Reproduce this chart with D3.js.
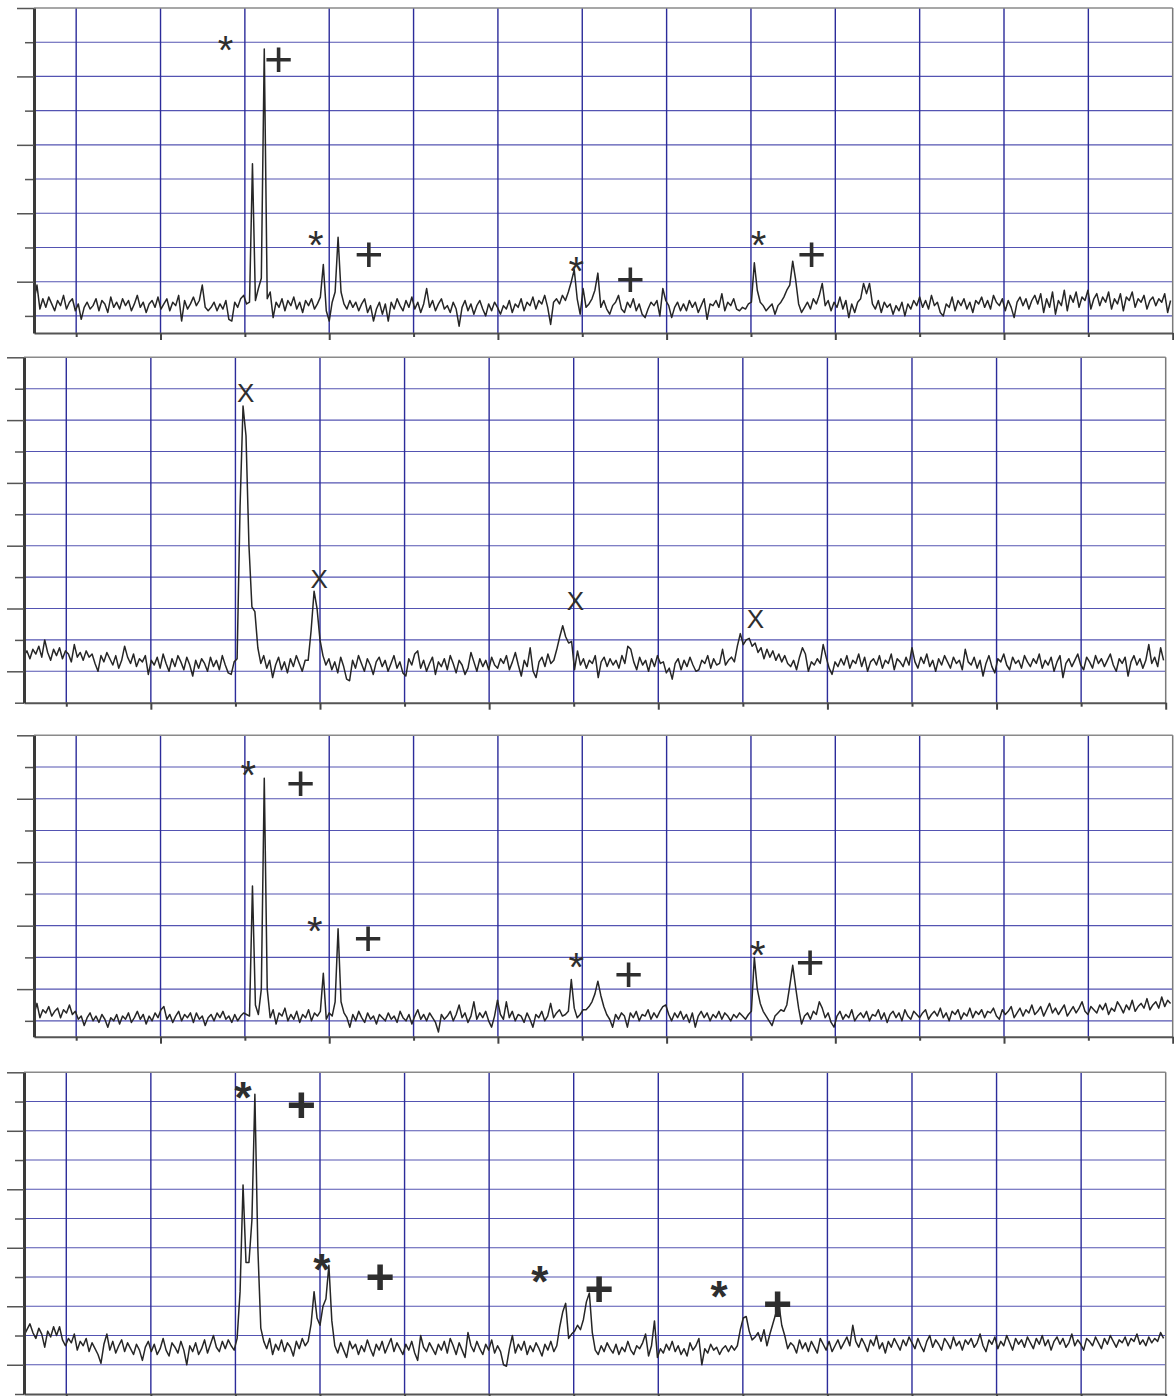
<!DOCTYPE html>
<html>
<head>
<meta charset="utf-8">
<script src="https://cdn.jsdelivr.net/npm/d3@7"></script>
<style>
  html, body { margin: 0; padding: 0; background: #fff; }
  svg { display: block; }
</style>
</head>
<body>
<div id="chart"></div>
<script>
// sampling of every spectrum (same x axis in all four panels)
const xStart = 5;
const xStep = 0.35;

// axis ticks and grid
const xGridLines = [10, 20, 30, 40, 50, 60, 70, 80, 90, 100, 110, 120, 130];
const xMajorTicks = [20, 40, 60, 80, 100, 120, 140];
const xMinorTicks = [10, 30, 50, 70, 90, 110, 130];
const yMajorA = [30, 70, 110, 150, 190];
const yMinorA = [10, 50, 90, 130, 170];
const yGridA = [10, 30, 50, 70, 90, 110, 130, 150, 170];
const yMajorB = [20, 60, 100, 140, 180, 220];
const yMinorB = [0, 40, 80, 120, 160, 200];
const yGridB = [20, 40, 60, 80, 100, 120, 140, 160, 180, 200];

// spectrum 1 (top)
const spectrum1 = [
  19,28,14,20,15,21,17,13,19,16,22,14,18,20,13,17,8,15,18,14,
  16,20,13,19,17,12,21,15,18,14,20,16,19,13,17,22,15,18,12,17,
  19,15,21,14,17,20,13,18,16,22,7,19,14,17,21,16,19,28,15,13,
  15,18,13,17,14,19,8,7,18,15,20,22,17,18,99,19,26,32,166,20,
  24,9,18,15,20,13,19,16,21,14,18,12,19,16,20,14,17,21,40,13,
  7,18,24,56,24,17,14,19,15,18,13,17,20,12,16,7,14,18,11,17,
  7,18,14,20,16,13,19,15,21,14,18,12,17,26,15,19,13,17,20,14,
  16,12,18,14,4,15,19,13,17,11,16,19,14,10,17,13,18,15,11,16,
  14,19,12,17,15,20,13,18,16,21,14,19,17,22,15,5,18,20,17,22,
  19,24,30,37,20,11,26,15,17,20,25,35,15,19,14,11,16,18,22,14,
  12,18,15,20,13,17,11,9,14,18,16,19,10,26,19,16,9,15,18,13,
  17,13,19,15,18,12,16,20,8,17,16,19,15,23,13,18,16,20,14,13,
  15,14,17,18,41,25,18,16,13,15,17,11,16,18,21,25,28,42,31,17,
  12,15,18,14,20,17,22,29,16,19,13,18,15,21,14,19,9,17,12,18,
  20,29,23,29,17,14,19,12,18,15,17,11,16,13,18,10,17,14,19,16,
  21,15,19,14,22,16,18,12,10,17,15,21,13,19,16,20,14,18,12,19,
  17,21,15,19,14,22,18,16,20,13,19,15,9,18,21,16,20,14,19,22,
  17,23,12,20,15,24,11,19,16,25,13,22,18,24,15,21,19,25,14,20,
  23,16,21,18,24,14,20,17,23,13,21,19,24,15,20,18,22,14,19,21,16,20,18,23,12,19
];

// spectrum 2
const spectrum2 = [
  30,33,28,34,31,36,29,40,32,27,34,30,35,28,33,31,26,37,29,32,
  27,33,29,31,25,20,30,26,32,28,24,30,22,27,36,29,25,31,23,28,
  26,30,18,27,24,29,22,31,25,20,28,23,30,26,21,29,24,17,27,22,
  28,25,20,29,23,27,21,30,24,19,18,26,28,125,189,170,100,61,58,35,
  25,30,22,27,16,24,29,21,26,19,28,23,30,25,20,27,27,46,71,60,
  40,30,24,28,21,26,19,29,23,15,14,27,22,30,25,20,28,24,18,26,
  29,23,27,20,25,30,22,26,19,17,28,24,31,33,22,27,20,25,29,18,
  26,23,28,21,30,25,19,27,24,18,22,32,26,20,28,23,27,21,29,24,
  22,28,25,30,21,26,32,24,17,27,23,35,20,16,26,29,23,31,25,27,
  34,42,49,42,38,39,21,33,24,28,22,27,25,30,16,26,29,23,28,24,
  27,22,30,25,36,34,26,21,29,24,27,20,28,23,30,25,26,19,22,15,
  25,28,21,27,23,29,24,20,21,27,25,30,22,28,24,25,34,24,27,29,
  26,36,44,37,40,41,36,38,32,35,28,34,29,33,27,31,26,30,25,23,
  27,21,29,35,31,20,26,24,28,25,37,29,22,18,26,23,28,24,30,22,
  27,25,31,23,29,20,26,28,24,30,22,27,25,31,21,28,26,23,29,24,
  35,26,22,29,25,31,23,27,20,28,24,30,26,22,29,25,27,21,34,26,
  24,29,22,27,17,25,30,23,19,28,26,31,24,21,29,25,27,22,30,26,
  23,28,25,31,22,27,24,29,20,26,30,16,25,28,23,27,31,24,21,29,
  26,22,30,25,28,23,27,31,24,20,28,25,29,17,26,30,24,28,22,27,37,25,29,23,35,27
];

// spectrum 3
const spectrum3 = [
  14,21,12,17,15,19,13,16,18,12,17,15,20,14,16,11,13,7,12,15,
  10,13,9,14,11,6,12,10,14,8,13,11,15,9,12,16,11,14,8,13,
  10,15,12,17,19,11,14,9,13,16,10,14,12,15,9,15,11,13,7,12,
  14,10,15,12,16,11,13,9,14,10,13,15,14,13,95,20,14,30,163,30,
  12,17,8,15,13,18,10,14,11,16,9,14,12,17,10,15,13,16,40,11,
  15,13,22,68,22,15,12,6,14,10,16,12,9,15,11,13,8,14,12,10,
  15,11,13,9,16,12,10,14,8,13,17,11,14,10,15,12,9,3,14,11,
  13,16,10,14,20,12,15,9,13,22,11,15,12,16,10,6,13,23,14,11,
  22,12,16,10,14,13,9,15,11,6,14,12,16,10,13,21,12,15,17,13,
  14,16,36,18,12,14,17,17,19,22,27,35,26,19,14,11,6,14,11,15,
  13,6,15,12,16,10,14,13,17,11,15,12,16,19,20,14,10,15,12,16,
  11,14,9,15,6,13,16,12,15,10,14,12,16,11,15,13,10,14,12,15,
  13,11,14,16,50,30,21,16,13,10,7,13,15,17,16,20,32,45,31,18,
  8,13,15,11,16,14,22,18,12,15,9,6,13,16,11,14,12,17,10,13,
  15,12,16,10,14,13,17,11,15,9,14,16,12,15,10,17,13,11,16,14,
  12,15,17,11,14,16,13,18,12,15,10,16,14,17,11,15,13,18,12,16,
  14,17,12,16,15,18,13,11,17,14,16,19,12,15,18,13,17,15,20,14,
  16,19,13,17,21,15,18,14,17,20,13,16,19,15,18,22,16,14,19,17,
  15,20,17,21,14,18,16,22,19,15,20,17,23,16,19,21,18,24,17,20,22,18,25,19,23,21
];

// spectrum 4 (bottom)
const spectrum4 = [
  40,44,48,42,38,45,41,32,43,39,46,40,46,37,33,38,35,41,30,36,
  33,38,29,35,31,27,21,34,41,30,36,28,33,37,29,35,31,27,34,30,
  23,32,36,29,34,27,31,38,30,26,35,32,28,36,30,20,33,29,35,27,
  31,37,28,34,40,32,29,36,31,37,33,30,38,70,143,90,90,119,205,100,
  45,36,31,38,27,34,30,37,29,35,32,26,36,31,38,33,36,48,70,52,
  47,60,65,88,50,33,28,35,30,25,36,31,34,27,33,29,37,31,26,34,
  30,36,28,33,38,29,35,31,27,34,30,36,28,23,40,32,29,35,31,27,
  34,30,36,28,38,33,27,35,30,25,42,33,29,36,31,27,34,30,37,28,
  33,29,20,19,31,40,28,34,30,36,27,33,29,35,31,26,34,30,36,29,
  33,46,56,62,38,41,43,47,44,51,63,69,42,30,27,33,29,35,31,28,
  34,27,32,29,36,30,27,33,31,35,41,26,33,50,25,31,28,34,30,36,
  29,33,27,31,26,35,30,33,38,20,31,28,34,30,32,27,31,33,29,33,
  30,33,44,52,53,43,37,39,42,36,44,33,41,48,55,62,47,40,31,35,
  33,28,37,31,35,29,36,32,28,38,34,30,36,29,33,37,31,35,39,33,
  47,36,32,38,34,29,37,33,40,31,35,28,36,32,38,34,30,37,33,39,
  35,31,38,33,29,36,40,32,37,34,30,38,35,31,39,33,36,30,37,34,
  38,32,35,41,33,29,37,34,39,31,36,33,40,35,30,38,34,37,32,39,
  35,31,38,34,40,33,37,30,36,39,34,38,32,35,41,33,37,34,30,38,
  36,33,39,35,31,38,34,40,36,32,37,35,39,33,38,36,41,34,37,33,39,35,38,36,42,38
];

// peak labels
const labels1 = [
  { x: 27.7, y: 170.4, s: "*" }, { x: 34.0, y: 160.5, s: "+" },
  { x: 38.4, y: 56.3, s: "*" },  { x: 44.7, y: 46.7, s: "+" },
  { x: 69.3, y: 41.1, s: "*" },  { x: 75.7, y: 31.8, s: "+" },
  { x: 90.9, y: 56.3, s: "*" },  { x: 97.2, y: 46.4, s: "+" }
];
const labels2 = [
  { x: 31.2, y: 197.3, s: "X" }, { x: 39.9, y: 79.2, s: "X" },
  { x: 70.2, y: 64.7, s: "X" },  { x: 91.5, y: 53.4, s: "X" }
];
const labels3 = [
  { x: 30.4, y: 170.5, s: "*" }, { x: 36.6, y: 160.2, s: "+" },
  { x: 38.3, y: 72.0, s: "*" },  { x: 44.6, y: 62.3, s: "+" },
  { x: 69.3, y: 49.5, s: "*" },  { x: 75.5, y: 39.7, s: "+" },
  { x: 90.8, y: 57.3, s: "*" },  { x: 97.0, y: 47.2, s: "+" }
];
const labels4 = [
  { x: 30.9, y: 209.5, s: "*" }, { x: 37.8, y: 198.0, s: "+" },
  { x: 40.2, y: 91.7, s: "*" },  { x: 47.1, y: 80.5, s: "+" },
  { x: 66.0, y: 83.2, s: "*" },  { x: 73.0, y: 72.0, s: "+" },
  { x: 87.2, y: 73.4, s: "*" },  { x: 94.1, y: 62.2, s: "+" }
];

const width = 1174, height = 1396;

const panels = [
  { left: 34, right: 1172.7, top: 8,      bottom: 333,    yMax: 190, major: yMajorA, minor: yMinorA, grid: yGridA, data: spectrum1, labels: labels1, bold: false },
  { left: 24, right: 1165.7, top: 357.3,  bottom: 702.7,  yMax: 220, major: yMajorB, minor: yMinorB, grid: yGridB, data: spectrum2, labels: labels2, bold: false },
  { left: 34, right: 1172.7, top: 735.3,  bottom: 1036.7, yMax: 190, major: yMajorA, minor: yMinorA, grid: yGridA, data: spectrum3, labels: labels3, bold: false },
  { left: 24, right: 1165.7, top: 1072.3, bottom: 1394,   yMax: 220, major: yMajorB, minor: yMinorB, grid: yGridB, data: spectrum4, labels: labels4, bold: true }
];

const svg = d3.select("#chart").append("svg")
  .attr("width", width)
  .attr("height", height)
  .style("background", "#fff");

// glyph sizes and vertical centring (em offsets to baseline)
const glyph = {
  "*": { size: 40, boldSize: 44, dy: "0.57em" },
  "+": { size: 50, boldSize: 50, dy: "0.35em" },
  "X": { size: 26, boldSize: 26, dy: "0.36em" }
};

panels.forEach(p => {
  const x = d3.scaleLinear().domain([5, 140]).range([p.left, p.right]);
  const y = d3.scaleLinear().domain([0, p.yMax]).range([p.bottom, p.top]);

  const g = svg.append("g");

  // horizontal grid
  g.selectAll("line.hgrid")
    .data(p.grid)
    .enter().append("line")
    .attr("class", "hgrid")
    .attr("x1", p.left).attr("x2", p.right)
    .attr("y1", d => y(d)).attr("y2", d => y(d))
    .attr("stroke", "#5454b2")
    .attr("stroke-width", 1.1);

  // vertical grid
  g.selectAll("line.vgrid")
    .data(xGridLines)
    .enter().append("line")
    .attr("class", "vgrid")
    .attr("x1", d => x(d)).attr("x2", d => x(d))
    .attr("y1", p.top).attr("y2", p.bottom)
    .attr("stroke", "#2c2c9a")
    .attr("stroke-width", 1.4);

  // frame: top and right
  g.append("line")
    .attr("x1", p.left).attr("x2", p.right)
    .attr("y1", p.top).attr("y2", p.top)
    .attr("stroke", "#8a8a8a").attr("stroke-width", 1.5);
  g.append("line")
    .attr("x1", p.right).attr("x2", p.right)
    .attr("y1", p.top).attr("y2", p.bottom)
    .attr("stroke", "#7a7a7a").attr("stroke-width", 1.5);

  // spectrum
  const line = d3.line()
    .x((d, i) => x(xStart + i * xStep))
    .y(d => y(d));

  g.append("path")
    .datum(p.data)
    .attr("d", line)
    .attr("fill", "none")
    .attr("stroke", "#262626")
    .attr("stroke-width", 1.5)
    .attr("stroke-linejoin", "round");

  // bottom axis (major + minor ticks, no labels)
  const bx = g.append("g").attr("transform", `translate(0,${p.bottom})`);
  bx.append("g")
    .call(d3.axisBottom(x).tickValues(xMajorTicks).tickSize(7).tickSizeOuter(0).tickFormat(""))
    .call(a => a.select(".domain").attr("stroke", "#555").attr("stroke-width", 2))
    .call(a => a.selectAll(".tick line").attr("stroke", "#444").attr("stroke-width", 2));
  bx.append("g")
    .call(d3.axisBottom(x).tickValues(xMinorTicks).tickSize(4).tickSizeOuter(0).tickFormat(""))
    .call(a => a.select(".domain").remove())
    .call(a => a.selectAll(".tick line").attr("stroke", "#444").attr("stroke-width", 2));

  // left axis
  const lx = g.append("g").attr("transform", `translate(${p.left},0)`);
  lx.append("g")
    .call(d3.axisLeft(y).tickValues(p.minor).tickSize(9).tickSizeOuter(0).tickFormat(""))
    .call(a => a.select(".domain").remove())
    .call(a => a.selectAll(".tick line").attr("stroke", "#555").attr("stroke-width", 1.5));
  lx.append("g")
    .call(d3.axisLeft(y).tickValues(p.major).tickSize(17).tickSizeOuter(0).tickFormat(""))
    .call(a => a.select(".domain").attr("stroke", "#3a3a3a").attr("stroke-width", 3))
    .call(a => a.selectAll(".tick line").attr("stroke", "#555").attr("stroke-width", 1.5));

  // peak labels
  g.selectAll("text.lbl")
    .data(p.labels)
    .enter().append("text")
    .attr("class", "lbl")
    .attr("x", d => x(d.x))
    .attr("y", d => y(d.y))
    .attr("dy", d => glyph[d.s].dy)
    .attr("text-anchor", "middle")
    .attr("font-family", "'Liberation Sans', Arial, sans-serif")
    .attr("font-size", d => (p.bold ? glyph[d.s].boldSize : glyph[d.s].size) + "px")
    .attr("font-weight", p.bold ? "700" : "400")
    .attr("fill", "#2e2e2e")
    .text(d => d.s);
});
</script>
</body>
</html>
